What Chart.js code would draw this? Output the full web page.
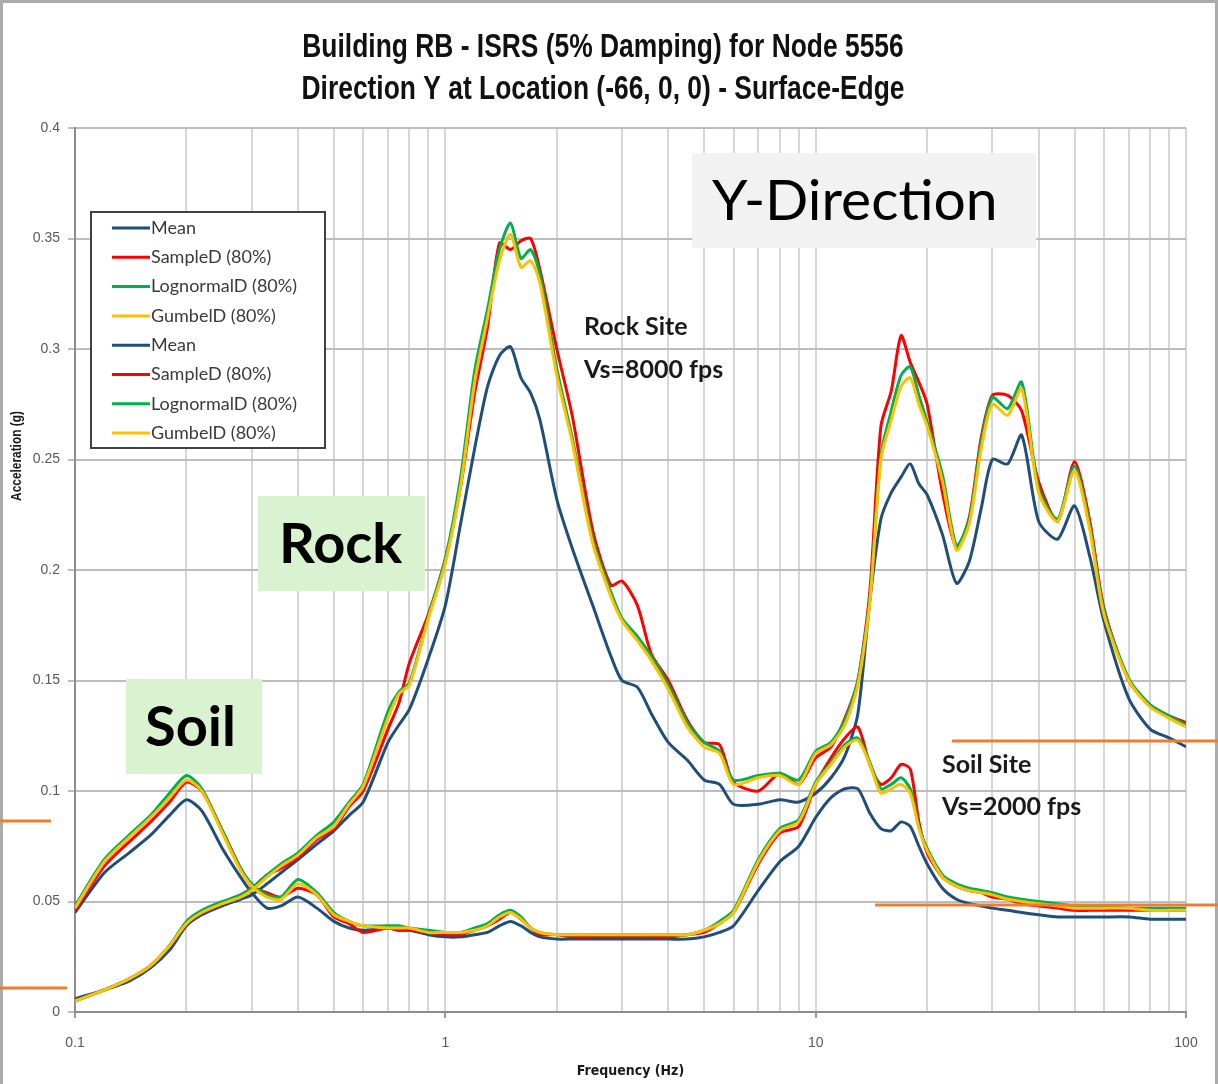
<!DOCTYPE html>
<html>
<head>
<meta charset="utf-8">
<title>Building RB - ISRS (5% Damping) for Node 5556</title>
<script src="https://cdn.jsdelivr.net/npm/chart.js@4.4.1/dist/chart.umd.min.js"></script>
<style>
  html, body { margin: 0; padding: 0; background: #fff; }
  #wrap { position: relative; width: 1218px; height: 1084px; }
</style>
</head>
<body>
<div id="wrap"><canvas id="myChart" width="1218" height="1084"></canvas></div>
<script>
// Frecuencias comunes (Hz)
const freqHz = [0.1, 0.12, 0.14, 0.16, 0.18, 0.2, 0.22, 0.25, 0.28, 0.3,
    0.33, 0.36, 0.4, 0.45, 0.5, 0.55, 0.6, 0.7, 0.75, 0.8,
    0.9, 1.0, 1.1, 1.2, 1.3, 1.4, 1.5, 1.6, 1.7, 1.8,
    2.0, 2.2, 2.5, 2.8, 3.0, 3.3, 3.6, 4.0, 4.5, 5.0,
    5.5, 6, 7, 8, 9, 10, 11, 12, 13, 14,
    15, 16, 17, 18, 19, 20, 22, 24, 26, 28,
    30, 33, 36, 40, 45, 50, 55, 60, 70, 80,
    90, 100];

// Rock site (Vs=8000 fps)
const rockMean = [0.006, 0.010, 0.014, 0.020, 0.028, 0.039, 0.044, 0.048, 0.051, 0.053,
    0.058, 0.063, 0.069, 0.076, 0.082, 0.089, 0.095, 0.122, 0.130, 0.137,
    0.160, 0.184, 0.221, 0.255, 0.283, 0.297, 0.301, 0.287, 0.280, 0.268,
    0.232, 0.210, 0.184, 0.161, 0.150, 0.147, 0.135, 0.122, 0.114, 0.105,
    0.103, 0.094, 0.094, 0.096, 0.095, 0.099, 0.106, 0.116, 0.135, 0.186,
    0.223, 0.235, 0.242, 0.248, 0.239, 0.234, 0.216, 0.194, 0.204, 0.228,
    0.250, 0.248, 0.261, 0.222, 0.214, 0.229, 0.206, 0.177, 0.142, 0.128,
    0.124, 0.120];
const rockSampleD = [0.005, 0.010, 0.015, 0.021, 0.030, 0.040, 0.045, 0.049, 0.053, 0.056,
    0.062, 0.065, 0.070, 0.078, 0.083, 0.093, 0.100, 0.128, 0.140, 0.158,
    0.180, 0.205, 0.238, 0.280, 0.310, 0.348, 0.345, 0.349, 0.350, 0.336,
    0.300, 0.270, 0.218, 0.193, 0.195, 0.184, 0.162, 0.150, 0.132, 0.122,
    0.121, 0.104, 0.100, 0.108, 0.103, 0.115, 0.120, 0.133, 0.150, 0.190,
    0.265, 0.281, 0.306, 0.294, 0.285, 0.275, 0.235, 0.210, 0.224, 0.260,
    0.279, 0.279, 0.272, 0.240, 0.222, 0.249, 0.222, 0.183, 0.150, 0.139,
    0.134, 0.131];
const rockLognormalD = [0.005, 0.010, 0.015, 0.021, 0.030, 0.041, 0.046, 0.050, 0.053, 0.056,
    0.062, 0.067, 0.072, 0.080, 0.086, 0.095, 0.103, 0.136, 0.145, 0.149,
    0.179, 0.205, 0.242, 0.290, 0.318, 0.345, 0.357, 0.341, 0.345, 0.334,
    0.291, 0.260, 0.214, 0.190, 0.178, 0.170, 0.161, 0.148, 0.131, 0.122,
    0.118, 0.105, 0.107, 0.108, 0.105, 0.118, 0.122, 0.132, 0.150, 0.187,
    0.252, 0.272, 0.288, 0.292, 0.279, 0.267, 0.243, 0.211, 0.223, 0.258,
    0.278, 0.273, 0.285, 0.237, 0.223, 0.247, 0.220, 0.182, 0.151, 0.139,
    0.134, 0.130];
const rockGumbelD = [0.005, 0.010, 0.015, 0.021, 0.030, 0.040, 0.045, 0.049, 0.052, 0.055,
    0.061, 0.066, 0.071, 0.079, 0.084, 0.094, 0.102, 0.133, 0.144, 0.148,
    0.178, 0.203, 0.238, 0.285, 0.314, 0.340, 0.352, 0.337, 0.340, 0.330,
    0.288, 0.258, 0.212, 0.188, 0.177, 0.168, 0.159, 0.146, 0.129, 0.120,
    0.117, 0.103, 0.106, 0.107, 0.103, 0.117, 0.121, 0.130, 0.148, 0.185,
    0.250, 0.268, 0.283, 0.287, 0.275, 0.265, 0.240, 0.209, 0.221, 0.255,
    0.275, 0.270, 0.282, 0.235, 0.222, 0.245, 0.218, 0.180, 0.150, 0.138,
    0.133, 0.129];

// Soil site (Vs=2000 fps)
const soilMean = [0.045, 0.063, 0.072, 0.080, 0.089, 0.096, 0.091, 0.074, 0.061, 0.054,
    0.047, 0.048, 0.052, 0.047, 0.041, 0.038, 0.037, 0.038, 0.037, 0.037,
    0.035, 0.034, 0.034, 0.035, 0.036, 0.039, 0.041, 0.039, 0.036, 0.034,
    0.033, 0.033, 0.033, 0.033, 0.033, 0.033, 0.033, 0.033, 0.033, 0.034,
    0.036, 0.039, 0.055, 0.068, 0.075, 0.088, 0.097, 0.101, 0.101, 0.090,
    0.083, 0.082, 0.086, 0.084, 0.075, 0.067, 0.056, 0.051, 0.049, 0.048,
    0.047, 0.046, 0.045, 0.044, 0.043, 0.043, 0.043, 0.043, 0.043, 0.042,
    0.042, 0.042];
const soilSampleD = [0.046, 0.066, 0.077, 0.086, 0.095, 0.104, 0.100, 0.082, 0.065, 0.057,
    0.054, 0.052, 0.056, 0.053, 0.043, 0.040, 0.036, 0.038, 0.037, 0.037,
    0.036, 0.035, 0.035, 0.037, 0.039, 0.042, 0.045, 0.042, 0.038, 0.035,
    0.035, 0.034, 0.034, 0.034, 0.034, 0.034, 0.034, 0.034, 0.035, 0.036,
    0.040, 0.045, 0.067, 0.081, 0.084, 0.103, 0.115, 0.124, 0.129, 0.112,
    0.103, 0.106, 0.112, 0.110, 0.086, 0.072, 0.061, 0.057, 0.055, 0.054,
    0.052, 0.051, 0.049, 0.048, 0.047, 0.046, 0.046, 0.046, 0.046, 0.046,
    0.046, 0.046];
const soilLognormalD = [0.048, 0.069, 0.080, 0.089, 0.099, 0.107, 0.101, 0.082, 0.065, 0.058,
    0.053, 0.052, 0.060, 0.054, 0.045, 0.041, 0.039, 0.039, 0.039, 0.038,
    0.037, 0.036, 0.036, 0.038, 0.040, 0.044, 0.046, 0.043, 0.038, 0.036,
    0.035, 0.035, 0.035, 0.035, 0.035, 0.035, 0.035, 0.035, 0.035, 0.037,
    0.041, 0.046, 0.069, 0.083, 0.087, 0.104, 0.113, 0.121, 0.124, 0.113,
    0.101, 0.103, 0.106, 0.101, 0.084, 0.074, 0.062, 0.058, 0.056, 0.055,
    0.054, 0.052, 0.051, 0.050, 0.049, 0.048, 0.048, 0.048, 0.047, 0.047,
    0.047, 0.047];
const soilGumbelD = [0.047, 0.068, 0.079, 0.088, 0.097, 0.105, 0.100, 0.081, 0.064, 0.057,
    0.052, 0.051, 0.058, 0.053, 0.044, 0.041, 0.039, 0.038, 0.038, 0.038,
    0.036, 0.036, 0.036, 0.037, 0.039, 0.043, 0.045, 0.042, 0.038, 0.036,
    0.035, 0.035, 0.035, 0.035, 0.035, 0.035, 0.035, 0.035, 0.035, 0.037,
    0.040, 0.045, 0.068, 0.082, 0.086, 0.103, 0.112, 0.120, 0.123, 0.112,
    0.099, 0.101, 0.103, 0.099, 0.083, 0.073, 0.061, 0.057, 0.055, 0.054,
    0.053, 0.051, 0.050, 0.049, 0.048, 0.047, 0.047, 0.047, 0.047, 0.046,
    0.046, 0.046];

// Ejes
const xGridHz = [0.1, 0.2, 0.3, 0.4, 0.5, 0.6, 0.7, 0.8, 0.9,
    1, 2, 3, 4, 5, 6, 7, 8, 9,
    10, 20, 30, 40, 50, 60, 70, 80, 90, 100];
const xMajorHz = [0.1, 1, 10, 100];
const xTickLabels = ['0.1', '1', '10', '100'];
const yTickLabels = ['0', '0.05', '0.1', '0.15', '0.2', '0.25', '0.3', '0.35', '0.4'];

const titleLines = ['Building RB - ISRS (5% Damping) for Node 5556',
    'Direction Y at Location (-66, 0, 0) - Surface-Edge'];

const ARIAL = '"Liberation Sans", Arial, sans-serif';
const NARROW = '"DejaVu Sans Condensed", "Liberation Sans", sans-serif';
const HUMAN = 'Lato, "Open Sans", sans-serif';

const BLUE = '#1f4e79', RED = '#ff0000', GREEN = '#00b050', GOLD = '#ffc000';

function series(label, values, color, order) {
    return {
        label: label,
        data: values.map((v, i) => ({x: freqHz[i], y: v})),
        borderColor: color,
        backgroundColor: color,
        borderWidth: 3,
        pointRadius: 0,
        tension: 0.25,
        fill: false,
        order: order
    };
}

// Recuadros y textos sobre el grafico
const overlays = {
    boxes: [
        {x: 692, y: 153, w: 344, h: 95, color: '#f2f2f2', text: 'Y-Direction', font: '57px ' + HUMAN, tx: 712, ty: 202},
        {x: 258, y: 496, w: 167, h: 95, color: '#d9f2d0', text: 'Rock', font: 'bold 56px ' + HUMAN, tx: 279, ty: 545},
        {x: 126, y: 679, w: 136, h: 95, color: '#d9f2d0', text: 'Soil', font: 'bold 56px ' + HUMAN, tx: 145, ty: 728}
    ],
    notes: [
        {text: 'Rock Site', x: 584, y: 327},
        {text: 'Vs=8000 fps', x: 584, y: 370},
        {text: 'Soil Site', x: 942, y: 765},
        {text: 'Vs=2000 fps', x: 942, y: 807}
    ],
    marks: [
        {x1: 0, x2: 51, y: 821},
        {x1: 0, x2: 67, y: 988},
        {x1: 952, x2: 1218, y: 741},
        {x1: 875, x2: 1218, y: 905}
    ]
};

// texto estrecho (tipo Arial Narrow)
function narrowText(ctx, text, x, y, font, squeeze, rotate) {
    ctx.save();
    ctx.translate(x, y);
    if (rotate) ctx.rotate(rotate);
    ctx.scale(squeeze, 1);
    ctx.font = font;
    ctx.textAlign = 'center';
    ctx.textBaseline = 'middle';
    ctx.fillText(text, 0, 0);
    ctx.restore();
}

const decorPlugin = {
    id: 'decor',
    afterDraw(chart) {
        const ctx = chart.ctx;
        ctx.save();

        // marco exterior
        ctx.strokeStyle = '#ababab';
        ctx.lineWidth = 3;
        ctx.beginPath();
        ctx.moveTo(1.5, 1084); ctx.lineTo(1.5, 1.5); ctx.lineTo(1216.5, 1.5); ctx.lineTo(1216.5, 1084);
        ctx.stroke();

        // titulo
        ctx.fillStyle = '#111';
        titleLines.forEach((t, i) => narrowText(ctx, t, 603, 48 + i * 42, 'bold 33px ' + ARIAL, 0.8));

        // titulo del eje Y
        ctx.fillStyle = '#1a1a1a';
        narrowText(ctx, 'Acceleration (g)', 17, 456, 'bold 14.5px ' + ARIAL, 0.82, -Math.PI / 2);

        // leyenda
        const lx = 91, ly = 212, lw = 234, lh = 236;
        ctx.fillStyle = '#ffffff';
        ctx.fillRect(lx, ly, lw, lh);
        ctx.strokeStyle = '#404040';
        ctx.lineWidth = 2;
        ctx.strokeRect(lx, ly, lw, lh);
        ctx.font = '18px ' + HUMAN;
        ctx.textBaseline = 'middle';
        ctx.textAlign = 'left';
        chart.data.datasets.forEach((ds, i) => {
            const yy = 228 + i * 29.3;
            ctx.strokeStyle = ds.borderColor;
            ctx.lineWidth = 3;
            ctx.beginPath();
            ctx.moveTo(112, yy); ctx.lineTo(150, yy);
            ctx.stroke();
            ctx.fillStyle = '#3a3a3a';
            ctx.fillText(ds.label, 151, yy);
        });

        // recuadros
        overlays.boxes.forEach(b => {
            ctx.fillStyle = b.color;
            ctx.fillRect(b.x, b.y, b.w, b.h);
            ctx.fillStyle = '#000';
            ctx.font = b.font;
            ctx.textBaseline = 'middle';
            ctx.fillText(b.text, b.tx, b.ty);
        });

        // notas
        ctx.font = 'bold 25px ' + HUMAN;
        ctx.fillStyle = '#1a1a1a';
        overlays.notes.forEach(n => ctx.fillText(n.text, n.x, n.y));

        // lineas naranjas
        ctx.strokeStyle = '#ed7d31';
        ctx.lineWidth = 3;
        overlays.marks.forEach(m => {
            ctx.beginPath();
            ctx.moveTo(m.x1, m.y); ctx.lineTo(m.x2, m.y);
            ctx.stroke();
        });

        ctx.restore();
    }
};

const ctx = document.getElementById('myChart').getContext('2d');
window.myChart = new Chart(ctx, {
    type: 'line',
    data: {
        datasets: [
            series('Mean', rockMean, BLUE, 4),
            series('SampleD (80%)', rockSampleD, RED, 3),
            series('LognormalD (80%)', rockLognormalD, GREEN, 2),
            series('GumbelD (80%)', rockGumbelD, GOLD, 1),
            series('Mean', soilMean, BLUE, 4),
            series('SampleD (80%)', soilSampleD, RED, 3),
            series('LognormalD (80%)', soilLognormalD, GREEN, 2),
            series('GumbelD (80%)', soilGumbelD, GOLD, 1)
        ]
    },
    options: {
        responsive: false,
        animation: false,
        devicePixelRatio: 1,
        layout: { padding: { top: 128, left: 0, right: 32, bottom: 0 } },
        plugins: {
            legend: { display: false },
            tooltip: { enabled: false },
            title: { display: false }
        },
        scales: {
            x: {
                type: 'logarithmic',
                min: 0.1,
                max: 100,
                afterBuildTicks: scale => {
                    scale.ticks = xGridHz.map(v => ({ value: v, major: xMajorHz.includes(v) }));
                },
                afterFit: scale => { scale.height = 72; },
                ticks: {
                    autoSkip: false,
                    maxRotation: 0,
                    padding: 17,
                    color: '#595959',
                    font: { family: 'Liberation Sans', size: 14 },
                    callback: value => {
                        const i = xMajorHz.indexOf(value);
                        return i >= 0 ? xTickLabels[i] : '';
                    }
                },
                grid: {
                    color: '#d6d6d6',
                    lineWidth: 2,
                    tickLength: 6,
                    tickColor: c => (c.tick && c.tick.major) ? '#9a9a9a' : 'rgba(0,0,0,0)'
                },
                border: { color: '#8c8c8c', width: 2 },
                title: {
                    display: true,
                    text: 'Frequency (Hz)',
                    color: '#1a1a1a',
                    font: { family: NARROW, size: 14, weight: 'bold' },
                    padding: { top: 0, bottom: 4 }
                }
            },
            y: {
                min: 0,
                max: 0.4,
                afterFit: scale => { scale.width = 75; },
                ticks: {
                    stepSize: 0.05,
                    padding: 8,
                    color: '#595959',
                    font: { family: 'Liberation Sans', size: 14 },
                    callback: (value, i) => yTickLabels[i] !== undefined ? yTickLabels[i] : value
                },
                grid: { color: '#bdbdbd', lineWidth: 2, tickLength: 7 },
                border: { color: '#8c8c8c', width: 2 }
            }
        }
    },
    plugins: [decorPlugin]
});
</script>
</body>
</html>
